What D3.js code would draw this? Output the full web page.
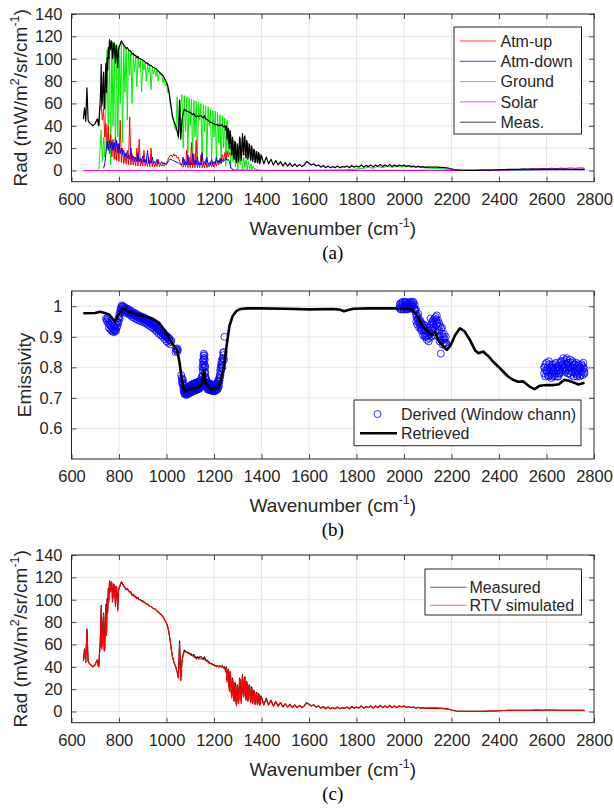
<!DOCTYPE html>
<html>
<head>
<meta charset="utf-8">
<script src="https://cdnjs.cloudflare.com/ajax/libs/d3/7.8.5/d3.min.js"></script>
<style>
  html, body { margin: 0; padding: 0; background: #fff; }
  svg { display: block; }
</style>
</head>
<body>
<svg id="fig" width="614" height="810"></svg>
<script>
// ---------------- data ----------------
const xTicks = [600, 800, 1000, 1200, 1400, 1600, 1800, 2000, 2200, 2400, 2600, 2800];
const radTicks = [0, 20, 40, 60, 80, 100, 120, 140];
const emisTicks = [0.6, 0.7, 0.8, 0.9, 1];

// Measured radiance [wavenumber, mW/m2/sr/cm-1]
const measured = [
 [650,46],[655,56],[660,44],[665,74],[670,45],[675,43],[680,42],[685,41],[690,40],[695,41],
 [700,42],[702.5,44],[705,44],[707.5,46],[710,46],[712.5,41],[715,40],[717.5,52],[720,58],[722.5,72],
 [725,95],[727.5,58],[730,62],[732.5,80],[735,88],[737.5,55],[740,56],[742.5,85],[745,96],[747.5,70],
 [750,101],[752.5,90],[755,110],[757.5,100],[760,117],[762.5,112],[765,108],[767.5,116],[770,115],[772.5,100],
 [775,103],[777.5,114],[780,113],[782.5,105],[785,96],[787.5,112],[790,111],[792.5,100],[795,92],[797.5,108],
 [800,110],[805,113],[810,116],[815,114],[820,112],[825,111],[830,109],[835,110],[840,108],[845,107],
 [850,107],[855,104],[860,105],[865,103],[870,103],[875,101],[880,102],[885,100],[890,100],[895,99],
 [900,99],[905,98],[910,97],[915,96],[920,96],[925,95],[930,94],[935,94],[940,93],[945,92],
 [950,92],[955,91],[960,90],[965,89],[970,88],[975,87],[980,86],[985,85],[990,83],[995,81],
 [1000,79],[1005,76],[1010,71],[1015,64],[1020,56],[1025,49],[1030,45],[1035,42],[1040,39],[1045,35],
 [1050,30],[1055,63],[1060,28],[1065,45],[1070,51],[1075,55],[1080,54],[1085,53],[1090,53],[1095,52],
 [1100,52],[1105,51],[1110,50],[1115,51],[1120,49],[1125,48],[1130,49],[1135,48],[1140,49],[1145,49],
 [1150,48],[1155,47],[1160,49],[1165,46],[1170,46],[1175,45],[1180,44],[1185,43],[1190,43],[1195,42],
 [1200,42],[1205,41],[1210,41],[1215,41],[1220,40],[1225,41],[1230,40],[1235,41],[1240,39],[1245,40],
 [1250,36],[1252.5,40],[1255,28],[1257.5,33],[1260,38],[1262.5,25],[1265,20],[1267.5,36],[1270,32],[1272.5,18],
 [1275,14],[1277.5,30],[1280,27],[1282.5,12],[1285,10],[1287.5,26],[1290,25],[1292.5,9],[1295,7],[1297.5,24],
 [1300,22],[1302.5,8],[1305,12],[1307.5,30],[1310,28],[1312.5,13],[1315,9],[1317.5,25],[1320,33],[1322.5,17],
 [1325,14],[1327.5,29],[1330,31],[1332.5,14],[1335,11],[1337.5,27],[1340,25],[1342.5,10],[1345,13],[1347.5,24],
 [1350,23],[1352.5,11],[1355,9],[1357.5,22],[1360,21],[1362.5,8],[1365,10],[1367.5,19],[1370,18],[1372.5,7],
 [1375,8],[1377.5,17],[1380,17],[1382.5,7],[1385,7],[1387.5,16],[1390,15],[1392.5,6],[1395,8],[1397.5,14],
 [1400,13],[1410,6],[1420,12],[1430,6],[1440,10],[1450,5],[1460,9],[1470,5],[1480,8],[1490,4],
 [1500,7],[1510,4],[1520,6.5],[1530,3.5],[1540,6],[1550,3.5],[1560,5.5],[1570,3.5],[1580,5],[1590,8],
 [1600,6.5],[1610,5],[1620,6],[1630,4],[1640,5],[1650,3],[1660,4.5],[1670,2.5],[1680,4],[1690,2.5],
 [1700,3.5],[1710,2.5],[1720,4],[1730,2.5],[1740,3.5],[1750,3],[1760,4],[1770,2.5],[1780,4.5],[1790,3],
 [1800,4],[1810,3],[1820,5],[1830,3],[1840,4.5],[1850,3.5],[1860,5],[1870,3],[1880,5],[1890,3.5],
 [1900,5.5],[1910,3.5],[1920,5],[1930,3.5],[1940,5.5],[1950,3.5],[1960,5],[1970,3.5],[1980,5],[1990,4],
 [2000,5],[2010,3.5],[2020,4.5],[2030,3.5],[2040,4],[2050,3],[2060,3.8],[2070,3],[2080,3.5],[2090,2.8],
 [2100,3.2],[2110,3],[2120,3],[2130,3],[2140,3],[2150,2.8],[2160,2.8],[2170,2.6],[2180,2.4],[2190,2],
 [2200,1.4],[2210,0.9],[2220,0.5],[2240,0.3],[2260,0.2],[2280,0.2],[2300,0.2],[2320,0.3],[2340,0.3],[2360,0.4],
 [2380,0.5],[2400,0.7],[2420,0.9],[2440,1],[2460,1.1],[2480,1.1],[2500,1.2],[2520,1.2],[2540,1.2],[2560,1.3],
 [2580,1.2],[2600,1.3],[2620,1.3],[2640,1.2],[2660,1.2],[2680,1.2],[2700,1.1],[2720,1.1],[2740,1],[2760,1]
];

// Radiance simulated by the retrieval [wavenumber, mW/m2/sr/cm-1]
const simulated = [
 [650,45],[655,55],[660,44],[665,73],[670,45],[675,43],[680,42],[685,41],[690,40],[695,41],
 [700,42],[702.5,44],[705,44],[707.5,46],[710,46],[712.5,41],[715,40],[717.5,50],[720,57],[722.5,70],
 [725,92],[727.5,56],[730,60],[732.5,78],[735,87],[737.5,54],[740,55],[742.5,82],[745,94],[747.5,68],
 [750,100],[752.5,88],[755,109],[757.5,98],[760,117],[762.5,111],[765,107],[767.5,116],[770,115],[772.5,98],
 [775,102],[777.5,114],[780,113],[782.5,104],[785,94],[787.5,112],[790,111],[792.5,98],[795,90],[797.5,108],
 [800,110],[805,113],[810,116],[815,114],[820,112],[825,111],[830,109],[835,110],[840,108],[845,107],
 [850,106],[855,104],[860,105],[865,103],[870,102],[875,101],[880,102],[885,100],[890,100],[895,99],
 [900,98],[905,98],[910,97],[915,96],[920,96],[925,95],[930,94],[935,94],[940,93],[945,92],
 [950,92],[955,91],[960,90],[965,89],[970,88],[975,87],[980,86],[985,85],[990,83],[995,81],
 [1000,79],[1005,76],[1010,71],[1015,64],[1020,56],[1025,49],[1030,45],[1035,42],[1040,39],[1045,35],
 [1050,30],[1055,61],[1060,28],[1065,44],[1070,51],[1075,54],[1080,53],[1085,53],[1090,52],[1095,52],
 [1100,51],[1105,50],[1110,50],[1115,49],[1120,48],[1125,47],[1130,47],[1135,47],[1140,47.5],[1145,47],
 [1150,47],[1155,46.5],[1160,47],[1165,45.5],[1170,45],[1175,44],[1180,43],[1185,43],[1190,42],[1195,42],
 [1200,41],[1205,41],[1210,40],[1215,41],[1220,40],[1225,40],[1230,40],[1235,40],[1240,39],[1245,39],
 [1250,35],[1252.5,39],[1255,26],[1257.5,32],[1260,37],[1262.5,23],[1265,18],[1267.5,35],[1270,31],[1272.5,16],
 [1275,12],[1277.5,29],[1280,26],[1282.5,10],[1285,9],[1287.5,25],[1290,24],[1292.5,7],[1295,5],[1297.5,23],
 [1300,21],[1302.5,7],[1305,11],[1307.5,29],[1310,27],[1312.5,11],[1315,7],[1317.5,24],[1320,32],[1322.5,15],
 [1325,13],[1327.5,28],[1330,30],[1332.5,12],[1335,10],[1337.5,26],[1340,24],[1342.5,9],[1345,12],[1347.5,23],
 [1350,22],[1352.5,10],[1355,8],[1357.5,21],[1360,20],[1362.5,7],[1365,9],[1367.5,18],[1370,17],[1372.5,6],
 [1375,7],[1377.5,16],[1380,16],[1382.5,6],[1385,7],[1387.5,15],[1390,14],[1392.5,5.5],[1395,7],[1397.5,13],
 [1400,12],[1410,6],[1420,11],[1430,5.5],[1440,10],[1450,5],[1460,8.5],[1470,4.5],[1480,8],[1490,4],
 [1500,7],[1510,4],[1520,6.5],[1530,3.5],[1540,6],[1550,3.5],[1560,5.5],[1570,3.5],[1580,5],[1590,7.5],
 [1600,6.5],[1610,5],[1620,6],[1630,4],[1640,5],[1650,3],[1660,4.5],[1670,2.5],[1680,4],[1690,2.5],
 [1700,3.5],[1710,2.5],[1720,4],[1730,2.5],[1740,3.5],[1750,3],[1760,4],[1770,2.5],[1780,4.5],[1790,3],
 [1800,4],[1810,3],[1820,5],[1830,3],[1840,4.5],[1850,3.5],[1860,5],[1870,3],[1880,5],[1890,3.5],
 [1900,5.5],[1910,3.5],[1920,5],[1930,3.5],[1940,5.5],[1950,3.5],[1960,5],[1970,3.5],[1980,5],[1990,4],
 [2000,5],[2010,3.5],[2020,4.5],[2030,3.5],[2040,4],[2050,3],[2060,3.8],[2070,3],[2080,3.5],[2090,2.8],
 [2100,3.2],[2110,3],[2120,3],[2130,3],[2140,3],[2150,2.8],[2160,2.8],[2170,2.6],[2180,2.4],[2190,2],
 [2200,1.4],[2210,0.9],[2220,0.5],[2240,0.3],[2260,0.2],[2280,0.2],[2300,0.2],[2320,0.3],[2340,0.3],[2360,0.4],
 [2380,0.5],[2400,0.7],[2420,0.9],[2440,1],[2460,1.1],[2480,1.1],[2500,1.2],[2520,1.2],[2540,1.2],[2560,1.3],
 [2580,1.2],[2600,1.3],[2620,1.3],[2640,1.2],[2660,1.2],[2680,1.2],[2700,1.1],[2720,1.1],[2740,1],[2760,1]
];

// Surface (ground) emission reaching the sensor
const ground = [
 [705,0],[710,0],[715,2],[720,18],[725,36],[730,8],[735,30],[740,12],[745,60],[750,108],
 [755,20],[760,112],[765,5],[770,114],[775,40],[780,115],[785,10],[790,113],[795,30],[800,112],
 [805,60],[810,114],[815,25],[820,112],[825,70],[830,110],[835,45],[840,108],[845,85],[850,106],
 [855,60],[860,104],[865,88],[870,102],[875,75],[880,101],[885,92],[890,99],[895,70],[900,98],
 [905,90],[910,96],[915,80],[920,95],[925,88],[930,94],[935,72],[940,92],[945,86],[950,91],
 [955,84],[960,90],[965,80],[970,88],[975,85],[980,86],[985,78],[990,83],[995,76],[1000,78],
 [1005,70],[1010,72],[1015,60],[1020,55],[1025,46],[1030,44],[1035,38],[1040,36],[1045,66],[1050,28],
 [1055,40],[1060,60],[1065,68],[1070,20],[1075,67],[1080,35],[1085,66],[1090,15],[1095,65],[1100,40],
 [1105,64],[1110,12],[1115,63],[1120,30],[1125,62],[1130,10],[1135,61],[1140,45],[1145,60],[1150,8],
 [1155,59],[1160,35],[1165,58],[1170,12],[1175,57],[1180,40],[1185,55],[1190,10],[1195,54],[1200,30],
 [1205,53],[1210,8],[1215,52],[1220,25],[1225,50],[1230,6],[1235,49],[1240,20],[1245,47],[1250,4],
 [1255,45],[1260,15],[1265,35],[1270,2],[1275,28],[1280,8],[1285,24],[1290,3],[1295,20],[1300,1],
 [1305,16],[1310,5],[1315,14],[1320,1],[1325,12],[1330,3],[1335,10],[1340,1],[1345,8],[1350,1],
 [1355,6],[1360,1],[1365,4],[1370,1],[1375,2],[1380,0.5],[1390,0.2],[1400,0.1],[1500,0.05],[1600,0.1],
 [1700,0.3],[1750,0.6],[1800,1.3],[1830,2],[1850,2.8],[1870,2],[1890,3.6],[1910,2.5],[1930,4],[1950,2.9],
 [1970,4.1],[1990,3.2],[2010,4.2],[2030,2.9],[2050,3.3],[2080,2.5],[2100,2.2],[2150,1.8],[2200,0.9],[2250,0.2],
 [2300,0.1],[2400,0.3],[2500,0.7],[2600,0.9],[2700,1],[2760,1]
];

// Upwelling atmospheric emission
const atmUp = [
 [715,40],[720,56],[725,58],[730,45],[735,55],[740,30],[745,42],[750,20],[755,40],[760,15],
 [765,32],[770,12],[775,28],[780,10],[785,30],[790,9],[795,24],[800,8],[805,45],[810,7],
 [815,20],[820,6],[825,14],[830,6],[835,18],[840,5],[845,48],[850,5],[855,15],[860,5],
 [865,12],[870,4],[875,20],[880,4],[885,28],[890,4],[895,10],[900,4],[905,18],[910,4],
 [915,8],[920,3.5],[925,12],[930,3.5],[935,20],[940,3.5],[945,8],[950,3.5],[955,6],[960,3.5],
 [965,10],[970,3.5],[975,6],[980,4],[985,5],[990,4],[995,6],[1000,5],[1005,9],[1010,12],
 [1015,13],[1020,14],[1025,12],[1030,15],[1035,13],[1040,14],[1045,11],[1050,12],[1055,8],[1060,6],
 [1065,4],[1070,3],[1075,10],[1080,3],[1085,18],[1090,2.5],[1095,12],[1100,2.5],[1105,25],[1110,2.5],
 [1115,15],[1120,2.5],[1125,27],[1130,2.5],[1135,8],[1140,2.5],[1145,14],[1150,2.5],[1155,6],[1160,2.5],
 [1165,10],[1170,2.5],[1175,5],[1180,3],[1185,8],[1190,3],[1195,6],[1200,3],[1205,7],[1210,4],
 [1215,9],[1220,5],[1225,11],[1230,6],[1235,14],[1240,8],[1245,16],[1250,10],[1255,17],[1260,12],
 [1265,16],[1270,14],[1280,15],[1290,16],[1300,15],[1310,16],[1320,14]
];

// Reflected downwelling atmospheric emission
const atmDown = [
 [735,2],[740,6],[745,15],[750,26],[755,18],[760,27],[765,20],[770,26],[775,18],[780,25],
 [785,17],[790,27],[795,16],[800,24],[805,15],[810,20],[815,14],[820,18],[825,12],[830,16],
 [835,11],[840,14],[845,10],[850,20],[855,9],[860,13],[865,8],[870,12],[875,8],[880,16],
 [885,8],[890,11],[895,7],[900,13],[905,7],[910,10],[915,7],[920,18],[925,6.5],[930,9],
 [935,6.5],[940,12],[945,6.5],[950,8],[955,6],[960,10],[965,6],[970,7],[975,6],[980,8],
 [985,5.5],[990,7],[995,5.5],[1000,6],[1005,7],[1010,9],[1015,10],[1020,10],[1025,9],[1030,9],
 [1035,8],[1040,8],[1045,7],[1050,7],[1055,6],[1060,5.5],[1065,5],[1070,12],[1075,5],[1080,8],
 [1085,5],[1090,14],[1095,5],[1100,7],[1105,5],[1110,15],[1115,5],[1120,9],[1125,5],[1130,12],
 [1135,5],[1140,7],[1145,5],[1150,16],[1155,5],[1160,8],[1165,5],[1170,12],[1175,5],[1180,7],
 [1185,5],[1190,10],[1195,5.5],[1200,8],[1205,6],[1210,12],[1215,6.5],[1220,9],[1225,7],[1230,11],
 [1235,8],[1240,10],[1245,9],[1250,11],[1255,9],[1260,10],[1265,8],[1270,3],[1280,0.4],[1400,0.1],
 [2300,0.1],[2380,0.3],[2450,0.5],[2550,0.6],[2650,0.7],[2760,0.7]
];

// Reflected solar radiance
const solar = [
 [650,0.1],[1000,0.1],[1500,0.1],[2000,0.1],[2200,0.15],[2300,0.2],[2380,0.3],[2420,0.6],[2440,0.4],[2460,0.9],
 [2480,0.7],[2500,1.3],[2520,1],[2540,1.6],[2560,1.3],[2580,1.9],[2600,1.5],[2620,2.1],[2640,1.7],[2660,2.2],
 [2680,1.9],[2700,2.4],[2720,2],[2740,2.5],[2760,2.2]
];

// Emissivity derived in window channels [wavenumber, emissivity]
const derived = [
 [745,.96],[748,.955],[750,.95],[752,.962],[755,.945],[757,.958],[760,.94],[762,.952],[765,.935],[767,.948],
 [770,.93],[772,.944],[775,.925],[777,.938],[780,.922],[782,.935],[785,.925],[787,.94],[790,.93],[792,.948],
 [795,.95],[797,.96],[800,.965],[802,.975],[805,.985],[807,.992],[810,.998],[812,1.003],[815,.998],[817,1.0],
 [820,.993],[822,.997],[825,.99],[828,.986],[832,.988],[835,.983],[838,.985],[842,.98],[846,.982],[850,.976],
 [854,.978],[858,.972],[862,.975],[866,.969],[870,.972],[874,.966],[878,.969],[882,.963],[886,.966],[890,.96],
 [894,.963],[898,.957],[902,.96],[906,.955],[910,.958],[914,.952],[918,.955],[922,.948],[926,.951],[930,.944],
 [934,.947],[938,.94],[942,.943],[946,.936],[950,.938],[954,.93],[958,.933],[962,.925],[966,.928],[970,.92],
 [974,.922],[978,.914],[982,.916],[986,.908],[990,.91],[994,.902],[998,.904],[1002,.897],[1006,.898],[1010,.89],
 [1014,.888],[1018,.883],[1040,.86],[1043,.855],[1046,.852],[1048,.858],
 [758,.93],[763,.925],[768,.92],[773,.918],[778,.915],[783,.918],[788,.92],[793,.935],[798,.945],[803,.96],
 [808,.98],[813,.99],[818,.985],[823,.98],[827,.995],[831,.978],[836,.992],[840,.975],[844,.988],[848,.97],
 [852,.985],[856,.965],[860,.98],[864,.962],[868,.977],[872,.958],[876,.974],[880,.955],[884,.97],[888,.952],
 [892,.967],[896,.95],[900,.965],[904,.947],[908,.962],[912,.945],[916,.958],[920,.94],[924,.955],[928,.936],
 [932,.951],[936,.932],[940,.947],[944,.928],[948,.943],[952,.922],[956,.938],[960,.917],[964,.933],[968,.91],
 [972,.927],[976,.905],[980,.92],[984,.9],[988,.913],[992,.893],[996,.905],[1000,.885],[1004,.9],[1008,.88],
 [1012,.895],[1016,.875],[1020,.888],[1038,.85],[1044,.862],
 [1062,.775],[1064,.765],[1066,.76],[1068,.745],[1070,.735],[1072,.725],[1074,.718],[1076,.712],[1078,.715],[1080,.72],
 [1082,.712],[1084,.718],[1086,.722],[1088,.716],[1090,.724],[1092,.718],[1094,.727],[1096,.72],[1098,.73],[1100,.722],
 [1102,.732],[1104,.725],[1106,.735],[1108,.726],[1110,.734],[1112,.727],[1114,.738],[1116,.728],[1118,.735],[1120,.73],
 [1122,.74],[1124,.731],[1126,.738],[1128,.732],[1130,.742],[1132,.734],[1134,.74],[1136,.733],[1138,.745],[1140,.738],
 [1142,.748],[1144,.74],[1146,.752],[1148,.745],[1150,.76],[1152,.775],[1153,.79],[1154,.81],[1155,.825],[1156,.838],
 [1157,.83],[1158,.815],[1159,.8],[1160,.84],[1161,.825],[1162,.805],[1163,.785],[1164,.77],[1166,.755],[1168,.745],
 [1170,.74],[1172,.735],[1174,.742],[1176,.733],[1178,.74],[1180,.732],[1182,.738],[1184,.73],[1186,.736],[1188,.728],
 [1190,.735],[1192,.728],[1194,.734],[1196,.727],[1198,.733],[1200,.728],[1202,.735],[1204,.73],[1206,.737],[1208,.731],
 [1210,.738],[1212,.732],[1214,.74],[1216,.735],[1218,.745],[1220,.752],[1222,.765],[1224,.775],[1226,.79],[1228,.8],
 [1230,.81],[1232,.822],[1234,.815],[1236,.83],[1238,.848],[1240,.84],[1244,.9],
 [1065,.75],[1069,.76],[1071,.75],[1073,.74],[1075,.73],[1077,.725],[1079,.73],[1081,.725],[1083,.73],[1085,.71],
 [1087,.73],[1089,.712],[1091,.733],[1093,.714],[1095,.737],[1097,.716],[1099,.74],[1101,.717],[1103,.742],[1105,.72],
 [1107,.744],[1109,.72],[1111,.745],[1113,.722],[1115,.746],[1117,.723],[1119,.748],[1121,.725],[1123,.75],[1125,.726],
 [1127,.75],[1129,.727],[1131,.752],[1133,.728],[1135,.753],[1137,.73],[1139,.755],[1141,.732],[1143,.757],[1145,.735],
 [1147,.765],[1149,.77],[1151,.8],[1153,.82],[1155,.8],[1157,.845],[1159,.83],[1161,.78],[1163,.8],[1165,.765],
 [1167,.76],[1169,.752],[1171,.748],[1173,.728],[1175,.75],[1177,.727],[1179,.748],[1181,.726],[1183,.746],[1185,.725],
 [1187,.745],[1189,.724],[1191,.744],[1193,.723],[1195,.743],[1197,.722],[1199,.742],[1201,.722],[1203,.743],[1205,.723],
 [1207,.745],[1209,.725],[1211,.748],[1213,.727],[1215,.752],[1217,.73],[1219,.76],[1221,.74],[1223,.755],[1225,.765],
 [1227,.775],[1229,.785],[1231,.795],[1233,.805],[1235,.8],[1237,.82],[1239,.83],[1241,.85],[1242,.825],
 [1980,.995],[1982,1.005],[1985,.99],[1988,1.0],[1990,1.01],[1993,.995],[1995,1.005],[1998,.99],[2000,1.0],[2003,1.012],
 [2005,.995],[2008,1.005],[2010,.99],[2013,1.0],[2015,1.008],[2018,.995],[2020,1.01],[2023,1.0],[2025,.993],[2028,1.005],
 [2030,1.012],[2033,.998],[2035,1.008],[2038,1.015],[2040,1.0],[2043,.99],[2045,1.005],[2048,.985],[2050,.975],[2053,.965],
 [2055,.97],[2058,.955],[2060,.96],[2063,.945],[2065,.95],[2068,.94],[2070,.93],[2073,.945],[2075,.925],[2078,.935],
 [2080,.92],[2083,.93],[2085,.912],[2088,.925],[2090,.905],[2093,.92],[2095,.9],[2098,.915],[2100,.905],[2103,.92],
 [2105,.895],[2108,.93],[2110,.91],[2113,.94],[2115,.9],[2118,.945],[2120,.92],[2123,.955],[2125,.93],[2128,.96],
 [2130,.915],[2133,.965],[2135,.94],[2138,.97],[2140,.925],[2143,.955],[2145,.9],[2148,.945],[2150,.885],[2152,.935],
 [2155,.845],[2157,.925],[2160,.91],[2163,.875],[2165,.9],[2168,.88],[2170,.895],[2175,.87],[2178,.88],
 [1985,1.01],[1990,.99],[1995,1.015],[2000,.99],[2005,1.015],[2010,1.012],[2015,.99],[2020,.995],[2025,1.015],[2030,.992],
 [2035,1.0],[2040,1.012],[2045,.99],[2050,.99],[2052,.95],[2056,.94],[2060,.975],[2064,.93],[2068,.955],[2072,.92],
 [2076,.94],[2080,.905],[2084,.94],[2088,.9],[2092,.935],[2096,.89],[2100,.93],[2104,.885],[2108,.91],[2112,.96],
 [2116,.925],[2120,.95],[2124,.94],[2128,.905],[2132,.95],[2136,.955],[2140,.945],[2144,.935],[2148,.92],[2152,.9],
 [2156,.89],[2160,.93],[2164,.89],[2168,.91],[2172,.88],[2176,.9],[2180,.875],
 [2590,.78],[2592,.8],[2595,.77],[2597,.79],[2600,.815],[2603,.785],[2605,.8],[2608,.77],[2610,.79],[2613,.81],
 [2615,.775],[2618,.795],[2620,.78],[2623,.805],[2625,.77],[2628,.79],[2630,.8],[2633,.775],[2635,.795],[2638,.81],
 [2640,.78],[2643,.8],[2645,.77],[2648,.79],[2650,.805],[2653,.78],[2655,.795],[2658,.815],[2660,.785],[2663,.805],
 [2665,.82],[2668,.79],[2670,.83],[2673,.8],[2675,.82],[2678,.785],[2680,.81],[2683,.825],[2685,.795],[2688,.81],
 [2690,.78],[2693,.8],[2695,.815],[2698,.79],[2700,.805],[2703,.775],[2705,.8],[2708,.815],[2710,.785],[2713,.805],
 [2715,.77],[2718,.795],[2720,.81],[2723,.78],[2725,.8],[2728,.77],[2730,.79],[2733,.805],[2735,.78],[2738,.795],
 [2740,.77],[2743,.8],[2745,.785],[2748,.81],[2750,.79],[2753,.775],[2755,.8],[2758,.785],[2760,.795],
 [2590,.8],[2595,.81],[2600,.79],[2605,.775],[2610,.82],[2615,.8],[2620,.765],[2625,.81],[2630,.785],[2635,.77],
 [2640,.815],[2645,.8],[2650,.77],[2655,.78],[2660,.82],[2665,.795],[2670,.81],[2675,.8],[2680,.79],[2685,.83],
 [2690,.815],[2695,.78],[2700,.825],[2705,.785],[2710,.82],[2715,.81],[2720,.785],[2725,.815],[2730,.775],[2735,.81],
 [2740,.8],[2745,.775],[2750,.805],[2755,.815],[2760,.78]
];

// Retrieved emissivity spectrum
const retrieved = [
 [650,.977],[700,.978],[720,.982],[740,.978],[760,.972],[772,.96],[781,.951],[790,.958],[800,.975],[812,.99],
 [822,.992],[840,.982],[875,.973],[910,.967],[941,.96],[970,.945],[1000,.912],[1015,.89],[1030,.872],[1045,.855],
 [1055,.815],[1062,.775],[1070,.738],[1078,.722],[1090,.726],[1105,.73],[1122,.731],[1141,.737],[1150,.745],[1158,.79],
 [1165,.75],[1172,.74],[1187,.728],[1204,.73],[1215,.732],[1225,.745],[1239,.79],[1253,.87],[1265,.935],[1278,.967],
 [1295,.985],[1311,.991],[1340,.993],[1400,.993],[1500,.992],[1600,.99],[1700,.991],[1730,.989],[1747,.984],[1765,.988],
 [1787,.992],[1850,.993],[1950,.993],[2000,.992],[2032,.99],[2050,.975],[2081,.933],[2100,.918],[2117,.905],[2131,.918],
 [2144,.89],[2160,.873],[2180,.857],[2195,.87],[2215,.905],[2236,.928],[2255,.918],[2278,.889],[2300,.855],[2313,.846],
 [2334,.852],[2345,.843],[2355,.837],[2380,.815],[2404,.797],[2438,.77],[2460,.759],[2480,.753],[2502,.754],[2529,.737],
 [2550,.729],[2572,.74],[2600,.742],[2630,.742],[2652,.745],[2675,.759],[2695,.756],[2715,.75],[2735,.744],[2760,.75]
];

// ---------------- drawing ----------------
const svg = d3.select('#fig');
const FONT = '"Liberation Sans", Arial, Helvetica, sans-serif';
const SERIF = '"Liberation Serif", "Times New Roman", serif';
const INK = '#262626';
const X0 = 71.5, X1 = 594;
const x = d3.scaleLinear().domain([600, 2800]).range([X0, X1]);
const defs = svg.append('defs');

function makePanel(key, top, bottom, domain, yTicks) {
  const y = d3.scaleLinear().domain(domain).range([bottom, top]);
  defs.append('clipPath').attr('id', 'clip-' + key)
    .append('rect').attr('x', X0).attr('y', top).attr('width', X1 - X0).attr('height', bottom - top);
  const grid = svg.append('g').attr('stroke', '#e1e1e1').attr('stroke-width', 0.8);
  grid.selectAll('line.gx').data(xTicks.slice(1, -1)).join('line').attr('class', 'gx')
    .attr('x1', d => x(d)).attr('x2', d => x(d)).attr('y1', top).attr('y2', bottom);
  grid.selectAll('line.gy').data(yTicks).join('line').attr('class', 'gy')
    .attr('x1', X0).attr('x2', X1).attr('y1', d => y(d)).attr('y2', d => y(d));
  const data = svg.append('g').attr('clip-path', `url(#clip-${key})`);
  return { key, top, bottom, y, data };
}

function finishPanel(p, yTicks, yFmt) {
  const ax = svg.append('g');
  ax.append('g').attr('transform', `translate(0,${p.bottom})`)
    .call(d3.axisBottom(x).tickValues(xTicks).tickSize(-5).tickPadding(11.5).tickFormat(d3.format('d')));
  ax.append('g').attr('transform', `translate(0,${p.top})`)
    .call(d3.axisTop(x).tickValues(xTicks).tickSize(-5).tickFormat(() => ''));
  ax.append('g').attr('transform', `translate(${X0},0)`)
    .call(d3.axisLeft(p.y).tickValues(yTicks).tickSize(-5).tickPadding(9).tickFormat(yFmt));
  ax.append('g').attr('transform', `translate(${X1},0)`)
    .call(d3.axisRight(p.y).tickValues(yTicks).tickSize(-5).tickFormat(() => ''));
  ax.selectAll('.domain').remove();
  ax.selectAll('.tick line').attr('stroke', INK).attr('stroke-width', 0.8);
  ax.selectAll('.tick text').attr('fill', INK).attr('font-family', FONT).attr('font-size', 16.5);
  ax.append('rect').attr('x', X0).attr('y', p.top).attr('width', X1 - X0).attr('height', p.bottom - p.top)
    .attr('fill', 'none').attr('stroke', INK).attr('stroke-width', 1);

  // x-axis title with superscript
  const xt = svg.append('text').attr('x', (X0 + X1) / 2).attr('y', p.bottom + 53)
    .attr('text-anchor', 'middle').attr('font-family', FONT).attr('font-size', 19).attr('fill', INK);
  xt.append('tspan').text('Wavenumber (cm');
  xt.append('tspan').attr('dy', -8).attr('font-size', 12.5).text('-1');
  xt.append('tspan').attr('dy', 8).text(')');
}

function radLabel(p) {
  const t = svg.append('text')
    .attr('transform', `translate(27,${(p.top + p.bottom) / 2}) rotate(-90)`)
    .attr('text-anchor', 'middle').attr('font-family', FONT).attr('font-size', 19).attr('fill', INK);
  t.append('tspan').text('Rad (mW/m');
  t.append('tspan').attr('dy', -8).attr('font-size', 12.5).text('2');
  t.append('tspan').attr('dy', 8).text('/sr/cm');
  t.append('tspan').attr('dy', -8).attr('font-size', 12.5).text('-1');
  t.append('tspan').attr('dy', 8).text(')');
}

function panelLetter(p, s) {
  svg.append('text').attr('x', (X0 + X1) / 2).attr('y', p.bottom + 77)
    .attr('text-anchor', 'middle').attr('font-family', SERIF).attr('font-size', 19).attr('fill', '#000')
    .text(s);
}

function spectrum(p, rows, color, width) {
  const line = d3.line().x(d => x(d[0])).y(d => p.y(d[1]));
  p.data.append('path').datum(rows).attr('d', line)
    .attr('fill', 'none').attr('stroke', color).attr('stroke-width', width)
    .attr('stroke-linejoin', 'round');
}

function legendBox(x0, y0, x1, y1) {
  svg.append('rect').attr('x', x0).attr('y', y0).attr('width', x1 - x0).attr('height', y1 - y0)
    .attr('fill', '#fff').attr('stroke', INK).attr('stroke-width', 1);
}
function legendText(tx, ty, s) {
  svg.append('text').attr('x', tx).attr('y', ty).attr('dy', '0.35em')
    .attr('font-family', FONT).attr('font-size', 16).attr('fill', INK).text(s);
}

// ----- (a) radiance components -----
const pa = makePanel('a', 14, 181.7, [-10, 140], radTicks);
spectrum(pa, ground, '#00ee00', 1);
spectrum(pa, atmUp, '#ff0000', 1);
spectrum(pa, atmDown, '#0000ff', 1);
spectrum(pa, solar, '#ff00ff', 1);
spectrum(pa, measured, '#000000', 1.2);
finishPanel(pa, radTicks, d3.format('d'));
radLabel(pa);
panelLetter(pa, '(a)');

const legA = [
  ['Atm-up', '#ff0000'], ['Atm-down', '#0000ff'], ['Ground', '#00ee00'], ['Solar', '#ff00ff'], ['Meas.', '#000000']
];
legendBox(454, 27, 581.5, 134);
legA.forEach((d, i) => {
  const cy = 41 + i * 20.3;
  svg.append('line').attr('x1', 460).attr('x2', 496).attr('y1', cy).attr('y2', cy)
    .attr('stroke', d[1]).attr('stroke-width', 1).attr('opacity', 0.75);
  legendText(500.5, cy, d[0]);
});

// ----- (b) emissivity -----
const pb = makePanel('b', 291, 459, [0.5, 1.05], emisTicks);
pb.data.selectAll('circle').data(derived).join('circle')
  .attr('cx', d => x(d[0])).attr('cy', d => pb.y(d[1])).attr('r', 3.5)
  .attr('fill', 'none').attr('stroke', '#0000ff').attr('stroke-width', 0.8);
spectrum(pb, retrieved, '#000000', 2.6);
finishPanel(pb, emisTicks, d => String(d));
svg.append('text')
  .attr('transform', `translate(31,${(pb.top + pb.bottom) / 2}) rotate(-90)`)
  .attr('text-anchor', 'middle').attr('font-family', FONT).attr('font-size', 19).attr('fill', INK)
  .text('Emissivity');
panelLetter(pb, '(b)');

legendBox(354, 400, 581, 445.7);
svg.append('circle').attr('cx', 377.5).attr('cy', 414).attr('r', 3.5)
  .attr('fill', 'none').attr('stroke', '#0000ff').attr('stroke-width', 0.8);
legendText(401, 414, 'Derived (Window chann)');
svg.append('line').attr('x1', 360).attr('x2', 397).attr('y1', 433.3).attr('y2', 433.3)
  .attr('stroke', '#000').attr('stroke-width', 2.6);
legendText(401, 433.3, 'Retrieved');

// ----- (c) measured vs simulated -----
const pc = makePanel('c', 555, 722.7, [-10, 140], radTicks);
spectrum(pc, measured, '#000000', 1.1);
spectrum(pc, simulated, '#ff0000', 1.1);
finishPanel(pc, radTicks, d3.format('d'));
radLabel(pc);
panelLetter(pc, '(c)');

legendBox(425, 569, 581.5, 615);
[['Measured', '#000000'], ['RTV simulated', '#ff0000']].forEach((d, i) => {
  const cy = 587.3 + i * 18;
  svg.append('line').attr('x1', 430).attr('x2', 466.5).attr('y1', cy).attr('y2', cy)
    .attr('stroke', d[1]).attr('stroke-width', 1).attr('opacity', 0.6);
  legendText(469.5, cy, d[0]);
});
</script>
</body>
</html>
